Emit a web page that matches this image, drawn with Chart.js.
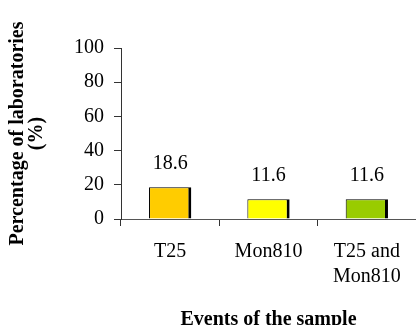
<!DOCTYPE html>
<html>
<head>
<meta charset="utf-8">
<script src="https://cdn.jsdelivr.net/npm/chart.js@4"></script>
<style>
  html, body { margin: 0; padding: 0; background: #fff; }
  .chart-box { width: 416px; height: 325px; }
</style>
</head>
<body>
<div class="chart-box"><canvas id="barChart"></canvas></div>
<script>
const categories = ["T25", "Mon810", ["T25 and", "Mon810"]];
const percentages = [18.6, 11.6, 11.6];
const barColors = ["#FFCC00", "#FFFF00", "#99CC00"];
const yTicks = [0, 20, 40, 60, 80, 100];

// value labels above each bar
const valueLabels = {
  id: "valueLabels",
  afterDatasetsDraw(chart) {
    const ctx = chart.ctx;
    const meta = chart.getDatasetMeta(0);
    ctx.save();
    ctx.font = "20px 'Liberation Serif'";
    ctx.fillStyle = "#000";
    ctx.textAlign = "center";
    ctx.textBaseline = "alphabetic";
    meta.data.forEach((bar, i) => {
      ctx.fillText(percentages[i].toFixed(1), bar.x, bar.y - 18);
    });
    ctx.restore();
  }
};

const ctx = document.getElementById("barChart").getContext("2d");
new Chart(ctx, {
  type: "bar",
  data: {
    labels: categories,
    datasets: [{
      data: percentages,
      backgroundColor: barColors,
      borderColor: "#000",
      borderWidth: { left: 1, top: 1, right: 3, bottom: 0 },
      borderSkipped: false,
      barPercentage: 0.43,
      categoryPercentage: 1.0
    }]
  },
  options: {
    responsive: true,
    maintainAspectRatio: false,
    animation: false,
    layout: { padding: { top: 48, right: -4, left: 0, bottom: 0 } },
    plugins: { legend: { display: false }, tooltip: { enabled: false } },
    scales: {
      x: {
        grid: { drawOnChartArea: false, drawTicks: true, tickLength: 7, color: "#333", offset: true },
        border: { color: "#555", width: 1 },
        ticks: { color: "#000", padding: 13, maxRotation: 0, font: { family: "Liberation Serif", size: 20, lineHeight: 1.25 } },
        title: {
          display: true,
          text: "Events of the sample",
          color: "#000",
          padding: { top: 13, bottom: 0 },
          font: { family: "Liberation Serif", size: 20, weight: "bold", lineHeight: 0.5 }
        }
      },
      y: {
        min: 0,
        max: 100,
        afterBuildTicks(scale) { scale.ticks = yTicks.map(v => ({ value: v })); },
        grid: { drawOnChartArea: false, drawTicks: true, tickLength: 7, color: "#333" },
        border: { color: "#333", width: 1 },
        ticks: { color: "#000", padding: 10, font: { family: "Liberation Serif", size: 20 } },
        title: {
          display: true,
          text: ["Percentage of laboratories", "(%)"],
          color: "#000",
          padding: { top: 8, bottom: 18 },
          font: { family: "Liberation Serif", size: 20, weight: "bold", lineHeight: 0.95 }
        }
      }
    }
  },
  plugins: [valueLabels]
});
</script>
</body>
</html>
